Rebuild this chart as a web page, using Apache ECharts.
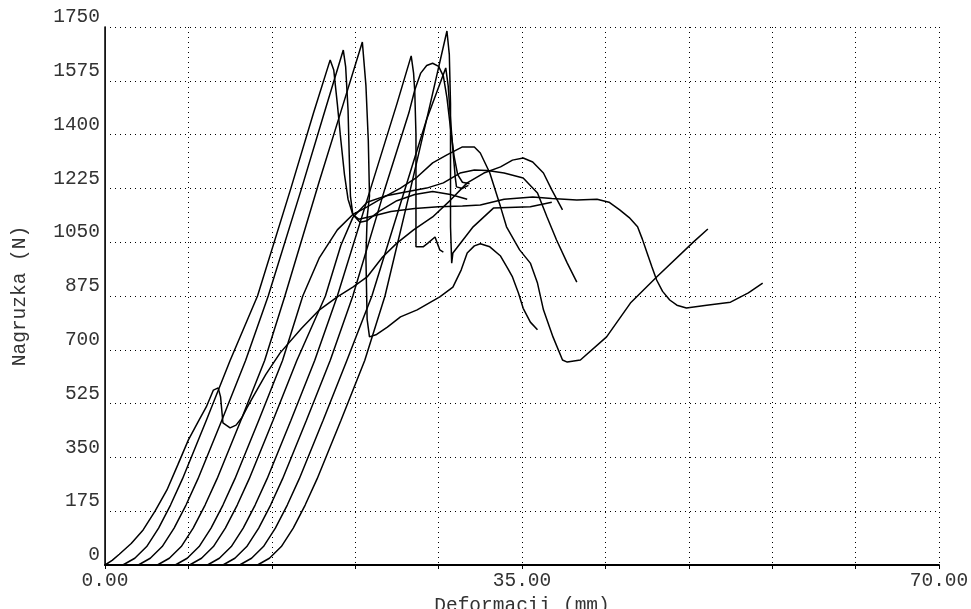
<!DOCTYPE html>
<html>
<head>
<meta charset="utf-8">
<script src="https://cdn.jsdelivr.net/npm/echarts@6/dist/echarts.min.js"></script>
<style>
  html, body { margin: 0; padding: 0; background: #fff; }
  #chart { width: 971px; height: 609px; }
</style>
</head>
<body>
<div id="chart"></div>
<script>
// axis settings (mm / N)
var xLabelValues = [0, 35, 70];
var yTickStep = 175;

// load / deformation curves, [deformation, load]
var specimen1 = [[0,0],[0.6,15],[1.2,35],[2.2,70],[3.2,114],[4.2,175],[5.2,244],[6.1,325],[7.0,407],[7.8,465],[8.5,514],[9.1,569],[9.5,576],[9.7,547],[9.8,504],[9.9,462],[10.5,446],[11.0,455],[11.5,480],[11.9,510],[12.4,545],[13.5,620],[14.7,690],[16.5,770],[18.0,830],[19.5,872],[20.8,904],[22.0,937],[23.3,1002],[24.5,1047],[25.9,1090],[27.5,1132],[29.0,1187],[30.4,1243],[31.8,1275],[33.2,1295],[34.2,1317],[35.1,1324],[35.9,1311],[36.8,1275],[37.5,1220],[38.4,1155]];
var specimen2 = [[1.5,0],[2.5,22],[3.5,60],[4.5,120],[5.5,195],[6.5,280],[8.5,470],[10.5,665],[12.8,875],[15.6,1225],[17.5,1470],[18.9,1643],[19.2,1610],[19.5,1500],[19.8,1380],[20.1,1270],[20.4,1190],[20.8,1140],[21.4,1115],[22.0,1120],[23.0,1150],[24.5,1185],[26.0,1205],[27.5,1215],[29.0,1205],[30.4,1190]];
var specimen3 = [[2.8,0],[3.8,22],[4.8,60],[5.8,120],[6.8,195],[7.8,280],[9.8,470],[11.8,665],[13.7,875],[16.5,1225],[18.4,1470],[20.0,1675],[20.2,1620],[20.4,1480],[20.5,1330],[20.6,1200],[20.8,1140],[21.3,1125],[22.5,1135],[24.0,1150],[26.0,1160],[28.0,1165],[30.0,1168],[31.5,1171],[33.5,1190],[35.9,1197],[37.5,1192],[39.6,1187],[41.3,1190],[42.3,1180],[43.2,1155],[44.0,1130],[44.7,1100],[45.1,1060],[45.5,1015],[45.9,970],[46.3,927],[46.8,890],[47.4,862],[48.0,845],[48.8,836],[50.5,845],[52.5,855],[54.0,885],[55.2,917]];
var specimen4 = [[4.4,0],[5.4,22],[6.4,60],[7.4,120],[8.4,195],[9.4,280],[11.4,470],[13.4,665],[15.1,875],[18.0,1250],[20.0,1500],[21.6,1701],[21.9,1560],[22.1,1380],[22.2,1200],[22.0,1130],[21.9,1000],[22.0,800],[22.2,742],[22.8,750],[23.7,774],[24.8,807],[26.2,830],[28.1,872],[29.2,904],[29.9,960],[30.4,1015],[31.0,1038],[31.5,1045],[32.3,1035],[33.2,1005],[33.8,965],[34.2,937],[34.7,885],[35.1,835],[35.7,790],[36.3,765]];
var specimen5 = [[5.9,0],[6.9,22],[7.9,60],[8.9,120],[9.9,195],[10.9,280],[12.9,470],[14.9,665],[16.6,875],[18.0,1000],[19.5,1090],[20.8,1140],[22.0,1165],[23.3,1194],[24.8,1226],[26.2,1262],[27.5,1308],[28.7,1334],[30.0,1360],[31.0,1360],[31.5,1340],[32.3,1275],[33.2,1165],[33.7,1100],[34.8,1025],[35.7,982],[36.3,917],[36.8,830],[37.6,742],[38.4,667],[38.8,660],[39.9,667],[42.1,742],[44.1,852],[46.3,937],[49.4,1051],[50.6,1093]];
var specimen6 = [[7.1,0],[8.1,22],[9.1,60],[10.1,120],[11.1,195],[12.1,280],[14.1,470],[16.1,665],[18.5,875],[19.8,1040],[20.8,1130],[22.0,1180],[23.5,1200],[25.0,1212],[27.0,1226],[28.4,1243],[29.8,1275],[31.0,1285],[32.1,1283],[33.5,1275],[35.1,1259],[36.3,1210],[37.1,1132],[37.9,1057],[38.8,982],[39.6,920]];
var specimen7 = [[8.6,0],[9.6,22],[10.6,60],[11.6,120],[12.6,195],[13.6,280],[15.6,470],[17.6,665],[19.5,875],[22.3,1225],[24.5,1500],[25.7,1656],[25.9,1600],[26.0,1540],[26.1,1400],[26.1,1200],[26.1,1035],[26.7,1035],[27.1,1047],[27.7,1067],[28.1,1025],[28.4,1018]];
var specimen8 = [[9.9,0],[10.9,22],[11.9,60],[12.9,120],[13.9,195],[14.9,280],[16.9,470],[18.9,665],[20.8,875],[23.5,1225],[25.5,1470],[26.0,1545],[26.5,1600],[27.0,1625],[27.5,1632],[28.0,1622],[28.4,1590],[28.7,1520],[29.0,1420],[29.3,1330],[29.6,1270],[30.0,1245],[30.6,1240]];
var specimen9 = [[11.3,0],[12.3,22],[13.3,60],[14.3,120],[15.3,195],[16.3,280],[18.3,470],[20.3,665],[22.4,875],[25.0,1200],[27.0,1450],[28.6,1617],[28.8,1560],[29.0,1450],[29.2,1350],[29.4,1260],[29.5,1230],[30.0,1225],[30.5,1235]];
var specimen10 = [[12.8,0],[13.8,22],[14.8,60],[15.8,120],[16.8,195],[17.8,280],[19.8,470],[21.8,665],[23.5,875],[25.5,1200],[27.3,1500],[28.7,1737],[28.9,1660],[29.0,1500],[29.0,1300],[29.0,1100],[29.1,982],[29.2,1015],[30.9,1100],[32.6,1161],[35.7,1165],[37.5,1180]];

var curves = [specimen1, specimen2, specimen3, specimen4, specimen5,
              specimen6, specimen7, specimen8, specimen9, specimen10];

var monoFont = '"Courier New", "Liberation Mono", monospace';

var myChart = echarts.init(document.getElementById('chart'));

var series = [];
for (var i = 0; i < curves.length; i++) {
  series.push({
    type: 'line',
    data: curves[i],
    showSymbol: false,
    smooth: false,
    lineStyle: { color: '#000', width: 1.5 },
    silent: true
  });
}

myChart.setOption({
  backgroundColor: '#fff',
  animation: false,
  grid: { left: 105, right: 32, top: 27, bottom: 44, outerBoundsMode: 'none', containLabel: false },
  xAxis: [
    {
      type: 'value',
      min: 0, max: 70, interval: 7,
      name: 'Deformacii (mm)',
      nameLocation: 'middle',
      nameGap: 24,
      nameTextStyle: { fontFamily: monoFont, fontSize: 19.5, color: '#333' },
      axisLine: { show: true, lineStyle: { color: '#000', width: 1 } },
      axisTick: { show: true, length: 4, lineStyle: { color: '#000' } },
      axisLabel: {
        showMinLabel: true, showMaxLabel: true, hideOverlap: false,
        margin: 6,
        fontFamily: monoFont, fontSize: 19.5, color: '#333',
        formatter: function (v) {
          return xLabelValues.indexOf(v) >= 0 ? v.toFixed(2) : '';
        }
      },
      splitLine: { show: true, lineStyle: { color: '#000', width: 1, type: [1, 4] } }
    },
    {
      // top border
      type: 'value', position: 'top',
      min: 0, max: 70, interval: 7,
      axisLine: { show: true, lineStyle: { color: '#000', width: 2 } },
      axisTick: { show: false }, axisLabel: { show: false }, splitLine: { show: false }
    }
  ],
  yAxis: [
    {
      type: 'value',
      min: 0, max: 1750, interval: yTickStep,
      name: 'Nagruzka (N)',
      nameLocation: 'middle',
      nameGap: 75,
      nameTextStyle: { fontFamily: monoFont, fontSize: 19.5, color: '#333' },
      axisLine: { show: true, lineStyle: { color: '#555', width: 1 } },
      axisTick: { show: false },
      axisLabel: {
        margin: 5,
        fontFamily: monoFont, fontSize: 19.5, color: '#333',
        verticalAlign: 'bottom',
        formatter: function (v) { return String(v); }
      },
      splitLine: { show: true, lineStyle: { color: '#000', width: 1, type: [1, 4] } }
    },
    {
      // right border
      type: 'value', position: 'right',
      min: 0, max: 1750, interval: yTickStep,
      axisLine: { show: true, lineStyle: { color: '#000', width: 1.5 } },
      axisTick: { show: false }, axisLabel: { show: false }, splitLine: { show: false }
    }
  ],
  series: series
});
</script>
</body>
</html>
